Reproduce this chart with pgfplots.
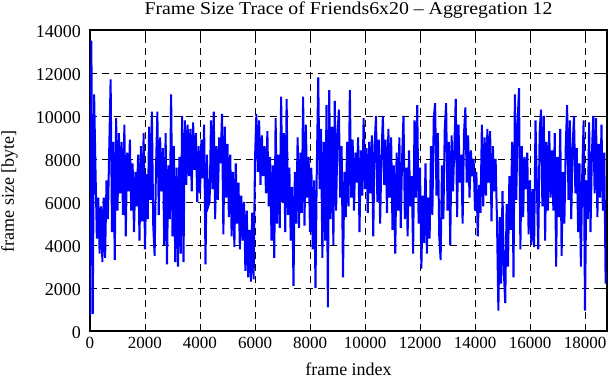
\documentclass[border=0pt]{standalone}
\usepackage{fontspec}
\setmainfont{Liberation Serif}
\newfontfamily\titlefont{Liberation Serif}[FakeStretch=1.1]
\usepackage{pgfplots}
\pgfplotsset{compat=1.18}
\usepackage{pgfplotstable}
\pgfplotstableread{
x y
0 700
50 13500
100 800
150 11000
200 7500
250 4300
300 6200
350 3600
400 5800
450 3200
500 6200
550 3400
600 7000
650 5200
700 8500
750 11700
800 4600
850 8800
900 3300
950 9900
1000 5600
1050 9200
1100 6400
1150 8800
1200 5400
1250 9600
1300 4400
1350 8300
1400 6500
1450 8900
1500 5600
1550 7800
1600 4600
1650 7400
1700 5800
1750 8200
1800 4200
1850 8600
1900 5100
1950 9200
2000 3800
2050 7300
2100 5200
2150 9500
2200 6100
2250 10200
2300 4900
2350 3500
2400 7600
2450 10200
2500 5400
2550 9000
2600 6500
2650 8500
2700 4000
2750 9200
2800 3100
2850 7700
2900 5200
2950 11000
3000 4400
3050 8600
3100 3200
3150 7600
3200 3000
3250 8100
3300 3600
3350 10000
3400 3200
3450 9800
3500 6800
3550 9600
3600 7200
3650 9400
3700 6500
3750 9700
3800 7500
3850 9200
3900 6000
3950 8600
4000 6400
4050 8900
4100 7100
4150 9600
4200 3100
4250 8200
4300 5800
4350 6000
4400 9800
4450 6600
4500 10200
4550 5200
4600 8600
4650 6100
4700 9000
4750 7800
4800 10100
4850 4500
4900 9500
4950 6200
5000 8700
5050 5300
5100 8200
5150 4400
5200 7400
5250 3900
5300 7800
5350 5000
5400 6900
5450 3800
5500 6300
5550 4200
5600 6000
5650 2800
5700 5600
5750 2500
5800 4700
5850 2300
5900 5500
5950 2400
6000 8000
6050 10100
6100 7400
6150 9800
6200 6800
6250 9100
6300 7200
6350 8600
6400 6400
6450 9300
6500 5800
6550 8100
6600 4200
6650 7700
6700 3400
6750 9900
6800 5000
6850 8200
6900 4800
6950 10900
7000 6000
7050 9200
7100 4600
7150 10800
7200 5400
7250 7600
7300 4200
7350 6700
7400 2100
7450 7400
7500 5000
7550 9000
7600 4800
7650 8300
7700 5500
7750 10900
7800 4900
7850 9600
7900 6200
7950 8100
8000 4600
8050 7600
8100 3800
8150 7000
8200 2000
8250 7800
8300 11800
8350 6600
8400 9400
8450 3400
8500 8800
8550 4200
8600 10500
8650 1100
8700 11200
8750 5200
8800 9500
8850 4000
8900 10700
8950 5600
9000 9200
9050 10300
9100 6200
9150 8600
9200 2500
9250 7400
9300 5300
9350 8800
9400 5800
9450 11200
9500 6200
9550 8900
9600 5600
9650 8300
9700 6900
9750 9000
9800 4600
9850 8400
9900 6300
9950 9900
10000 6600
10050 8500
10100 5500
10150 8800
10200 6400
10250 9100
10300 4400
10350 8700
10400 10000
10450 6000
10500 8900
10550 5000
10600 8200
10650 10000
10700 6800
10750 8900
10800 5500
10850 9400
10900 6200
10950 9000
11000 4700
11050 7700
11100 3600
11150 8300
11200 5600
11250 9000
11300 4800
11350 8100
11400 10000
11450 5200
11500 7600
11550 4400
11600 8400
11650 5800
11700 7200
11750 3600
11800 9800
11850 6200
11900 10500
11950 5000
12000 7600
12050 2900
12100 6300
12150 4100
12200 7800
12250 3600
12300 6200
12350 4300
12400 8600
12450 5400
12500 9900
12550 10600
12600 6300
12650 9200
12700 4400
12750 3300
12800 7700
12850 5200
12900 9400
12950 10600
13000 5600
13050 8800
13100 4000
13150 9100
13200 6500
13250 8600
13300 10800
13350 5300
13400 9600
13450 6900
13500 8200
13550 5000
13600 9200
13650 10400
13700 6900
13750 9100
13800 6200
13850 8400
13900 7200
13950 8000
14000 5600
14050 7400
14100 4400
14150 6800
14200 5500
14250 9600
14300 5800
14350 9000
14400 6300
14450 9400
14500 6900
14550 9300
14600 5100
14650 8600
14700 6500
14750 8000
14800 5100
14850 950
14900 5300
14950 2200
15000 6500
15050 2700
15100 1300
15150 5900
15200 3000
15250 7200
15300 4700
15350 8800
15400 2500
15450 11000
15500 6100
15550 9700
15600 11300
15650 3800
15700 8600
15750 5300
15800 8100
15850 6600
15900 8300
15950 4500
16000 7000
16050 4000
16100 6600
16150 3900
16200 9800
16250 6800
16300 3800
16350 9200
16400 10300
16450 5800
16500 10000
16550 4200
16600 8800
16650 5600
16700 9300
16750 6200
16800 8400
16850 5600
16900 9200
16950 3000
17000 8100
17050 5300
17100 9400
17150 3500
17200 7400
17250 5000
17300 8600
17350 10500
17400 6100
17450 9800
17500 5200
17550 8600
17600 10000
17650 6400
17700 8500
17750 4600
17800 7800
17850 3000
17900 7300
17950 9800
18000 950
18050 7000
18100 5200
18150 9700
18200 4600
18250 8200
18300 10000
18350 6400
18400 9900
18450 5300
18500 8700
18550 6200
18600 9600
18650 5600
18700 8300
18750 2200
}\tracedata
\begin{document}
\begin{tikzpicture}
\begin{axis}[
  at={(0,0)}, anchor=south west,
  scale only axis,
  width=517pt, height=301pt,
  xmin=0, xmax=18800, ymin=0, ymax=14000,
  xtick={0,2000,...,18000},
  ytick={0,2000,...,14000},
  scaled ticks=false,
  /pgf/number format/assume math mode=true,
  /pgf/number format/set thousands separator={},
  font=\fontsize{18}{21}\selectfont,
  tick align=inside, tick pos=both,
  major tick length=7pt,
  every tick/.style={black, line width=0.8pt},
  axis line style={line width=1.6pt},
  grid=major,
  major grid style={black, line width=0.8pt, dash pattern=on 7pt off 5pt},
  xticklabel style={anchor=base, yshift=-18pt, font=\fontsize{17}{20}\selectfont},
  yticklabel style={anchor=east, inner xsep=0pt, xshift=-9pt, yshift=-1.5pt},
  title={\titlefont Frame Size Trace of Friends6x20 – Aggregation 12},
  title style={at={(axis description cs:0.5,1)}, anchor=base, yshift=9pt, inner sep=0pt},
  xlabel={frame index},
  xlabel style={at={(axis description cs:0.5,0)}, anchor=base, yshift=-45pt, inner sep=0pt},
  ylabel={frame size [byte]},
  ylabel style={at={(axis description cs:-0.147,0.465)}, anchor=base, inner sep=0pt},
]
\addplot[blue, line width=2pt, line join=miter, mark=none] table[x=x, y=y] {\tracedata};
\end{axis}
\pgfresetboundingbox
\useasboundingbox (-90pt,-49pt) rectangle (521pt,331pt);
\end{tikzpicture}
\end{document}
